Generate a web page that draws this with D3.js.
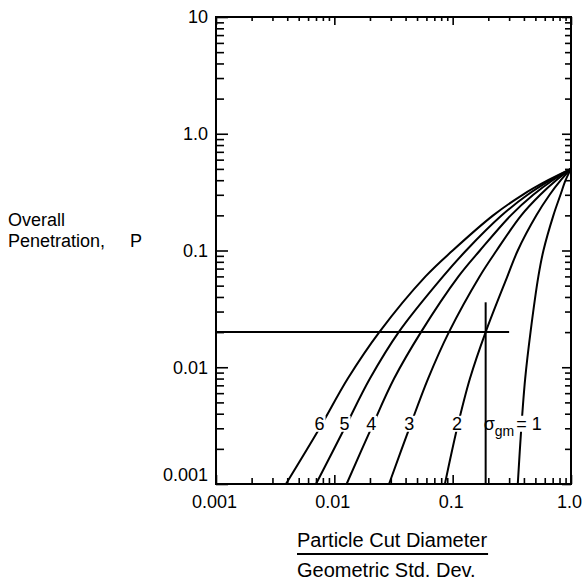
<!DOCTYPE html>
<html>
<head>
<meta charset="utf-8">
<script src="https://cdn.jsdelivr.net/npm/d3@7"></script>
<style>
  body { margin: 0; background: #fff; }
  text { font-family: "Liberation Sans", Arial, sans-serif; fill: #000; }
</style>
</head>
<body>
<div class="chart"></div>
<script>
// values: [cut diameter / std. dev., overall penetration]
const sigmaLabels = ["6", "5", "4", "3", "2", "1"];
const curve6 = [[0.0039, 0.001], [0.0075, 0.003], [0.013, 0.008], [0.024, 0.02], [0.059, 0.06], [0.10, 0.1], [0.22, 0.2], [0.39, 0.3], [0.64, 0.4], [1, 0.5]];
const curve5 = [[0.0070, 0.001], [0.0122, 0.003], [0.020, 0.008], [0.035, 0.02], [0.083, 0.06], [0.13, 0.1], [0.26, 0.2], [0.43, 0.3], [0.67, 0.4], [1, 0.5]];
const curve4 = [[0.0127, 0.001], [0.0205, 0.003], [0.032, 0.008], [0.054, 0.02], [0.112, 0.06], [0.17, 0.1], [0.31, 0.2], [0.48, 0.3], [0.70, 0.4], [1, 0.5]];
const curve3 = [[0.029, 0.001], [0.043, 0.003], [0.062, 0.008], [0.093, 0.02], [0.169, 0.06], [0.235, 0.1], [0.38, 0.2], [0.55, 0.3], [0.75, 0.4], [1, 0.5]];
const curve2 = [[0.086, 0.001], [0.109, 0.003], [0.14, 0.008], [0.19, 0.02], [0.29, 0.06], [0.355, 0.1], [0.51, 0.2], [0.66, 0.3], [0.82, 0.4], [1, 0.5]];
const curve1 = [[0.355, 0.001], [0.38, 0.003], [0.41, 0.008], [0.455, 0.02], [0.53, 0.06], [0.585, 0.1], [0.71, 0.2], [0.815, 0.3], [0.90, 0.4], [1, 0.5]];
const curves = [curve6, curve5, curve4, curve3, curve2, curve1];

const xTicks = [0.001, 0.01, 0.1, 1];
const xTickLabels = ["0.001", "0.01", "0.1", "1.0"];
const yTicks = [0.001, 0.01, 0.1, 1, 10];
const yTickLabels = ["0.001", "0.01", "0.1", "1.0", "10"];
const minorSteps = [2, 3, 4, 5, 6, 7, 8, 9];

// worked example: P = 0.02 on the sigma = 2 curve
const exampleRowP = 0.02, exampleRowX = [0.001, 0.3];
const exampleColX = 0.19, exampleColP = [0.001, 0.036];

const margin = { top: 17, right: 14, bottom: 96, left: 216 };
const width = 585 - margin.left - margin.right,
    height = 580 - margin.top - margin.bottom;

const svg = d3.select(".chart").append("svg")
    .attr("width", 585)
    .attr("height", 580)
    .append("g")
    .attr("transform", `translate(${margin.left}, ${margin.top})`);

const x = d3.scaleLog().domain([0.001, 1]).range([0, width]);
const y = d3.scaleLog().domain([0.001, 10]).range([height, 0]);

function minors(decades) {
    const out = [];
    decades.slice(0, -1).forEach(d => minorSteps.forEach(m => out.push(d * m)));
    return out;
}
const xMinor = minors(xTicks);
const yMinor = minors(yTicks);

const fmtX = d => xTickLabels[xTicks.indexOf(d)];
const fmtY = d => yTickLabels[yTicks.indexOf(d)];

// bottom
svg.append("g").attr("class", "x-axis")
    .attr("transform", `translate(0, ${height})`)
    .call(d3.axisBottom(x).tickValues(xTicks).tickFormat(fmtX).tickSize(-9).tickPadding(11));
svg.append("g").attr("transform", `translate(0, ${height})`)
    .call(d3.axisBottom(x).tickValues(xMinor).tickFormat("").tickSize(-6));
// top
svg.append("g")
    .call(d3.axisTop(x).tickValues(xTicks).tickFormat("").tickSize(-8));
svg.append("g")
    .call(d3.axisTop(x).tickValues(xMinor).tickFormat("").tickSize(-4));
// left
svg.append("g").attr("class", "y-axis")
    .call(d3.axisLeft(y).tickValues(yTicks).tickFormat(fmtY).tickSize(-12).tickPadding(8));
svg.append("g")
    .call(d3.axisLeft(y).tickValues(yMinor).tickFormat("").tickSize(-8));
// right
svg.append("g").attr("transform", `translate(${width}, 0)`)
    .call(d3.axisRight(y).tickValues(yTicks).tickFormat("").tickSize(-9));
svg.append("g").attr("transform", `translate(${width}, 0)`)
    .call(d3.axisRight(y).tickValues(yMinor).tickFormat("").tickSize(-6));

svg.selectAll(".domain").remove();
svg.selectAll(".tick line").attr("stroke", "#000").attr("stroke-width", 1.6);
svg.selectAll(".tick text").style("font-size", "18px").attr("fill", "#000");
svg.selectAll(".x-axis .tick text").attr("dx", -2);
// the lowest y label sits a little above its tick
svg.selectAll(".y-axis .tick text").filter(d => d === 0.001).attr("dy", "-0.2em");

svg.append("rect")
    .attr("width", width).attr("height", height)
    .attr("fill", "none").attr("stroke", "#000").attr("stroke-width", 2);

// example guide lines
svg.append("line")
    .attr("x1", x(exampleRowX[0])).attr("x2", x(exampleRowX[1]))
    .attr("y1", y(exampleRowP)).attr("y2", y(exampleRowP))
    .attr("stroke", "#000").attr("stroke-width", 2);
svg.append("line")
    .attr("x1", x(exampleColX)).attr("x2", x(exampleColX))
    .attr("y1", y(exampleColP[0])).attr("y2", y(exampleColP[1]))
    .attr("stroke", "#000").attr("stroke-width", 2);

const line = d3.line()
    .x(d => x(d[0]))
    .y(d => y(d[1]))
    .curve(d3.curveCatmullRom.alpha(0.5));

svg.selectAll(".curve")
    .data(curves)
    .enter().append("path")
    .attr("class", "curve")
    .attr("d", line)
    .attr("fill", "none")
    .attr("stroke", "#000")
    .attr("stroke-width", 2);

// curve labels, sitting on each curve at its second point
const labelY = y(0.0033);
function addLabel(g, txt, xPos, anchor) {
    const t = g.append("text")
        .attr("x", xPos).attr("y", labelY)
        .attr("dy", "0.35em")
        .attr("text-anchor", anchor)
        .style("font-size", "18px")
        .text(txt);
    const b = t.node().getBBox();
    g.insert("rect", "text")
        .attr("x", b.x - 1).attr("y", b.y + 2)
        .attr("width", b.width + 2).attr("height", b.height - 4)
        .attr("fill", "#fff");
    return t;
}
curves.forEach((c, i) => {
    const g = svg.append("g");
    const cx = x(c[1][0]);
    if (sigmaLabels[i] === "1") {
        addLabel(g, "= " + sigmaLabels[i], cx - 5, "start");
        const s = svg.append("text")
            .attr("x", cx - 7).attr("y", labelY)
            .attr("dy", "0.35em")
            .attr("text-anchor", "end")
            .style("font-size", "18px");
        s.append("tspan").text("σ");
        s.append("tspan").attr("dy", 6).style("font-size", "14px").text("gm");
    } else {
        addLabel(g, sigmaLabels[i], cx, "middle");
    }
});

// axis titles
const xt = svg.append("g").attr("transform", `translate(${297 - margin.left}, ${height})`);
const t1 = xt.append("text").attr("x", 0).attr("y", 63)
    .style("font-size", "20px").text("Particle Cut Diameter");
const w1 = t1.node().getComputedTextLength();
xt.append("line").attr("x1", 0).attr("x2", w1 + 1)
    .attr("y1", 70).attr("y2", 70)
    .attr("stroke", "#000").attr("stroke-width", 2);
xt.append("text").attr("x", 0).attr("y", 93)
    .style("font-size", "20px").text("Geometric Std. Dev.");

const yt = svg.append("g").attr("transform", `translate(${8 - margin.left}, 0)`);
yt.append("text").attr("x", 0).attr("y", 209)
    .style("font-size", "18px").text("Overall");
yt.append("text").attr("x", 0).attr("y", 230)
    .style("font-size", "18px").style("white-space", "pre")
    .text("Penetration,     P");
</script>
</body>
</html>
